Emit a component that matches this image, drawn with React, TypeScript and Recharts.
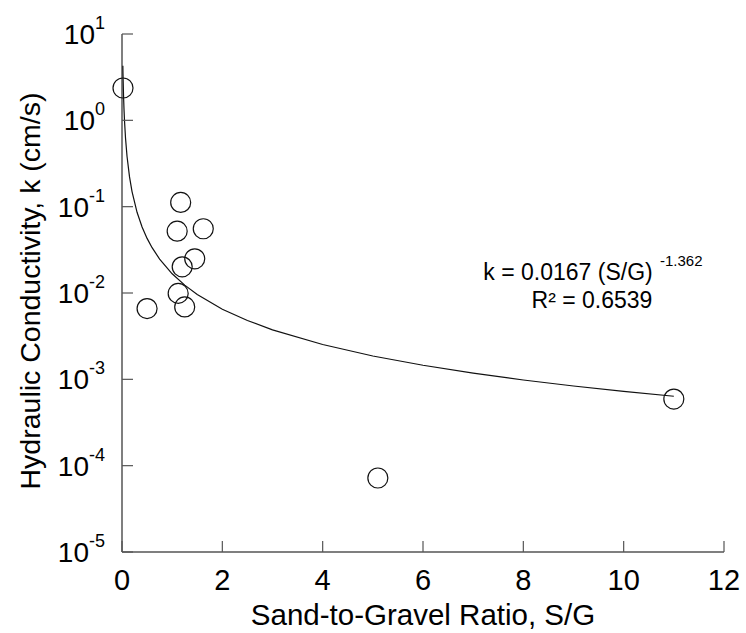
import React from 'react';
import { ScatterChart, Scatter, XAxis, YAxis } from 'recharts';

// measured samples: sand-to-gravel ratio vs hydraulic conductivity (cm/s)
const sgRatio = [0.02, 0.5, 1.1, 1.12, 1.17, 1.2, 1.25, 1.45, 1.62, 5.1, 11.0];
const conductivity = [2.37, 0.0066, 0.052, 0.0099, 0.112, 0.0201, 0.0069, 0.0249, 0.0555, 7.2e-5, 5.9e-4];

// power-law fit curve
const fitX = [0.017, 0.02, 0.03, 0.04, 0.05, 0.07, 0.1, 0.15, 0.2, 0.3, 0.4, 0.5, 0.6, 0.75, 1, 1.25, 1.5, 2, 2.5, 3, 4, 5, 6, 7, 8, 9, 10, 11];
const fitK = [4.29, 3.44, 1.98, 1.339, 0.988, 0.625, 0.384, 0.2213, 0.1495, 0.0861, 0.0582, 0.0429, 0.0335, 0.02471, 0.0167, 0.01233, 0.00961, 0.00649, 0.0048, 0.00374, 0.00253, 0.001865, 0.001455, 0.001179, 0.000983, 0.000837, 0.000725, 0.000637];

const xTicks = [0, 2, 4, 6, 8, 10, 12];
const yTicks = [1e-5, 1e-4, 1e-3, 1e-2, 1e-1, 1, 10];

const FONT = '"Liberation Sans", Arial, sans-serif';
const AXIS = '#555';
const TICK_LEN = 11;

const points = sgRatio.map((x, i) => ({ x, y: conductivity[i] }));
const fitLine = fitX.map((x, i) => ({ x, y: fitK[i] }));

const BottomTick = ({ x, y, payload }: any) => (
  <g>
    <line x1={x} y1={y} x2={x} y2={y - TICK_LEN} stroke={AXIS} strokeWidth={1.2} />
    <text x={x} y={y + 38} textAnchor="middle" fontSize={29} fontFamily={FONT} fill="#000">
      {payload.value}
    </text>
  </g>
);

const TopTick = ({ x, y }: any) => (
  <line x1={x} y1={y} x2={x} y2={y + TICK_LEN} stroke={AXIS} strokeWidth={1.2} />
);

const LeftTick = ({ x, y, payload }: any) => {
  const exp = Math.round(Math.log10(payload.value));
  return (
    <g>
      <line x1={x} y1={y} x2={x + TICK_LEN} y2={y} stroke={AXIS} strokeWidth={1.2} />
      <text x={x - 17} y={y + 10} textAnchor="end" fontSize={28} fontFamily={FONT} fill="#000">
        <tspan>10</tspan>
        <tspan dy={-15} fontSize={18}>{exp}</tspan>
      </text>
    </g>
  );
};

const RightTick = ({ x, y }: any) => (
  <line x1={x} y1={y} x2={x - TICK_LEN} y2={y} stroke={AXIS} strokeWidth={1.2} />
);

const XTitle = ({ viewBox }: any) => (
  <text
    x={viewBox.x + viewBox.width / 2}
    y={viewBox.y + 73}
    textAnchor="middle"
    fontSize={29.5}
    fontFamily={FONT}
    fill="#000"
  >
    Sand-to-Gravel Ratio, S/G
  </text>
);

const YTitle = ({ viewBox }: any) => {
  const cx = 30;
  const cy = viewBox.y + viewBox.height / 2 - 2;
  return (
    <text
      x={cx}
      y={cy}
      transform={`rotate(-90 ${cx} ${cy})`}
      textAnchor="middle"
      dominantBaseline="central"
      fontSize={28.5}
      fontFamily={FONT}
      fill="#000"
    >
      Hydraulic Conductivity, k (cm/s)
    </text>
  );
};

const OpenCircle = ({ cx, cy }: any) => (
  <circle cx={cx} cy={cy} r={10} fill="none" stroke="#111" strokeWidth={1.2} />
);

const App: React.FC = () => {
  return (
    <div style={{ position: 'absolute', left: 0, top: 0, width: 746, height: 633, background: '#fff' }}>
      <ScatterChart width={746} height={633} margin={{ top: 34, right: 22, bottom: 0, left: 0 }}>
        <XAxis
          xAxisId="b"
          dataKey="x"
          type="number"
          domain={[0, 12]}
          ticks={xTicks}
          height={81}
          tickSize={0}
          tickMargin={0}
          tickLine={false}
          axisLine={{ stroke: AXIS, strokeWidth: 1.5 }}
          tick={<BottomTick />}
          interval={0}
          label={<XTitle />}
        />
        <XAxis
          xAxisId="t"
          orientation="top"
          type="number"
          domain={[0, 12]}
          ticks={xTicks}
          height={0}
          tickSize={0}
          tickMargin={0}
          tickLine={false}
          axisLine={{ stroke: AXIS, strokeWidth: 1.5 }}
          tick={<TopTick />}
          interval={0}
        />
        <YAxis
          yAxisId="l"
          dataKey="y"
          type="number"
          scale="log"
          domain={[1e-5, 10]}
          ticks={yTicks}
          width={122}
          tickSize={0}
          tickMargin={0}
          tickLine={false}
          axisLine={{ stroke: AXIS, strokeWidth: 1.5 }}
          tick={<LeftTick />}
          interval={0}
          label={<YTitle />}
        />
        <YAxis
          yAxisId="r"
          orientation="right"
          type="number"
          scale="log"
          domain={[1e-5, 10]}
          ticks={yTicks}
          width={0}
          tickSize={0}
          tickMargin={0}
          tickLine={false}
          axisLine={{ stroke: AXIS, strokeWidth: 1.5 }}
          tick={<RightTick />}
          interval={0}
        />
        <Scatter
          xAxisId="b"
          yAxisId="l"
          data={fitLine}
          line={{ stroke: '#111', strokeWidth: 1.2 }}
          lineType="joint"
          shape={() => <g />}
          isAnimationActive={false}
        />
        <Scatter
          xAxisId="b"
          yAxisId="l"
          data={points}
          shape={<OpenCircle />}
          isAnimationActive={false}
        />
      </ScatterChart>
      <svg
        width={746}
        height={633}
        style={{ position: 'absolute', left: 0, top: 0, pointerEvents: 'none' }}
      >
        <text x={568} y={280} textAnchor="middle" fontSize={23} fontFamily={FONT} fill="#000">
          k = 0.0167 (S/G)
        </text>
        <text x={660} y={266} fontSize={15} fontFamily={FONT} fill="#000">
          -1.362
        </text>
        <text x={592} y={308} textAnchor="middle" fontSize={23} fontFamily={FONT} fill="#000">
          R² = 0.6539
        </text>
      </svg>
    </div>
  );
};

export default App;
